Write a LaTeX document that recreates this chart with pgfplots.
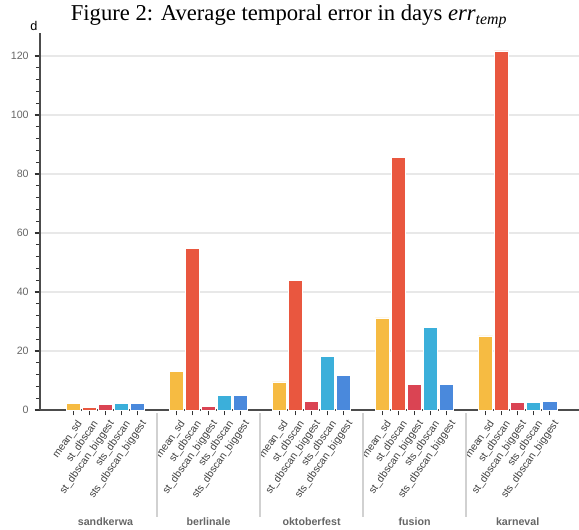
\documentclass[border=0pt]{standalone}
\usepackage{pgfplots}
\pgfplotsset{compat=1.18}
\usepackage{fontspec}
\setmainfont{Liberation Serif}
\setsansfont{Liberation Sans}
\definecolor{cMean}{HTML}{F6BB42}
\definecolor{cSt}{HTML}{E9573F}
\definecolor{cStBig}{HTML}{DA4453}
\definecolor{cSts}{HTML}{3BAFDA}
\definecolor{cStsBig}{HTML}{4A89DC}
\begin{document}
\begin{tikzpicture}[x=1pt,y=1pt]
\path[use as bounding box] (0,0) rectangle (434.25,396.75);
\begin{axis}[
  at={(30pt,89.25pt)}, anchor=south west,
  scale only axis, width=404.25pt, height=282.75pt,
  xmin=-1.565, xmax=31.91, ymin=0, ymax=127.8,
  axis x line*=bottom, axis y line*=left,
  axis line style={black!70, line width=0.8pt},
  clip=false,
  ytick={0,20,40,60,80,100,120},
  minor y tick num=4,
  ymajorgrids, major grid style={black!9, line width=0.8pt},
  tick align=outside,
  major tick length=4pt, minor tick length=3pt,
  tick style={black!80, line width=0.8pt},
  /pgf/number format/assume math mode=true,
  yticklabel style={font=\sffamily\fontsize{8}{9}\selectfont, text=black!60, xshift=-1pt},
  xtick={0.5,1.5,2.5,3.5,4.5, 6.9,7.9,8.9,9.9,10.9, 13.3,14.3,15.3,16.3,17.3, 19.7,20.7,21.7,22.7,23.7, 26.1,27.1,28.1,29.1,30.1},
  xticklabels={mean\_sd,st\_dbscan,st\_dbscan\_biggest,sts\_dbscan,sts\_dbscan\_biggest,
               mean\_sd,st\_dbscan,st\_dbscan\_biggest,sts\_dbscan,sts\_dbscan\_biggest,
               mean\_sd,st\_dbscan,st\_dbscan\_biggest,sts\_dbscan,sts\_dbscan\_biggest,
               mean\_sd,st\_dbscan,st\_dbscan\_biggest,sts\_dbscan,sts\_dbscan\_biggest,
               mean\_sd,st\_dbscan,st\_dbscan\_biggest,sts\_dbscan,sts\_dbscan\_biggest},
  xticklabel style={rotate=55, anchor=east, font=\sffamily\fontsize{7.8}{8.5}\selectfont, text=black!75, inner sep=1pt, yshift=-7pt, xshift=0pt},
  bar width=0.88,
  every axis plot/.append style={ybar, bar shift=0pt, draw=white, line width=0.6pt},
]
\addplot[fill=cMean] coordinates {(0.5,2.2) (6.9,13.1) (13.3,9.5) (19.7,31.2) (26.1,25.1)};
\addplot[fill=cSt] coordinates {(1.5,1.0) (7.9,54.9) (14.3,43.8) (20.7,85.6) (27.1,121.7)};
\addplot[fill=cStBig] coordinates {(2.5,1.9) (8.9,1.1) (15.3,2.85) (21.7,8.6) (28.1,2.5)};
\addplot[fill=cSts] coordinates {(3.5,2.2) (9.9,5.0) (16.3,18.3) (22.7,28.0) (29.1,2.7)};
\addplot[fill=cStsBig] coordinates {(4.5,2.2) (10.9,5.0) (17.3,11.7) (23.7,8.6) (30.1,2.95)};
\pgfplotsinvokeforeach{5.7,12.1,18.5,24.9}{
  \draw[black!18, line width=1.5pt] ([yshift=-2.5pt]axis cs:#1,0) -- ([yshift=-80pt]axis cs:#1,0);
}
\node[font=\sffamily\bfseries\fontsize{8}{9.6}\selectfont, text=black!60] at ([yshift=-84pt]axis cs:2.5,0) {sandkerwa};
\node[font=\sffamily\bfseries\fontsize{8}{9.6}\selectfont, text=black!60] at ([yshift=-84pt]axis cs:8.9,0) {berlinale};
\node[font=\sffamily\bfseries\fontsize{8}{9.6}\selectfont, text=black!60] at ([yshift=-84pt]axis cs:15.3,0) {oktoberfest};
\node[font=\sffamily\bfseries\fontsize{8}{9.6}\selectfont, text=black!60] at ([yshift=-84pt]axis cs:21.7,0) {fusion};
\node[font=\sffamily\bfseries\fontsize{8}{9.6}\selectfont, text=black!60] at ([yshift=-84pt]axis cs:28.1,0) {karneval};
\end{axis}
\node[anchor=base, font=\fontsize{17}{20}\selectfont] at (216.75,381) {Figure 2: Average temporal error in days \textit{err\textsubscript{temp}}};
\node[anchor=base, font=\sffamily\fontsize{9.5}{11}\selectfont] at (25.5,373.5) {d};
\end{tikzpicture}
\end{document}
